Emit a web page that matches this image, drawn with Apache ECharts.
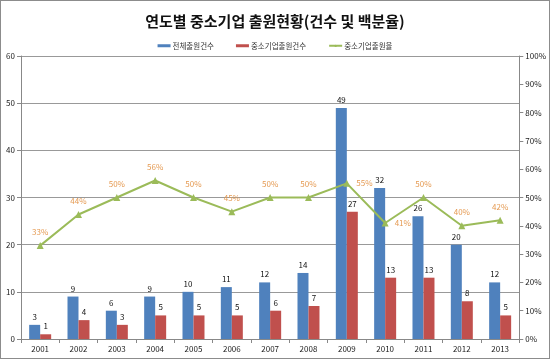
<!DOCTYPE html>
<html><head><meta charset="utf-8">
<script src="https://cdn.jsdelivr.net/npm/echarts@6/dist/echarts.min.js"></script>
<style>html,body{margin:0;padding:0;background:#fff}#c{width:548px;height:357px;border:1px solid #8c8c8c}</style>
</head><body><div id="c"></div>
<script>
const years = ['2001','2002','2003','2004','2005','2006','2007','2008','2009','2010','2011','2012','2013'];
const totalApps = [3,9,6,9,10,11,12,14,49,32,26,20,12];
const smeApps = [1,4,3,5,5,5,6,7,27,13,13,8,5];
const smeRatio = [33,44,50,56,50,45,50,50,55,41,50,40,42];
const titleText = '연도별 중소기업 출원현황(건수 및 백분율)';
const seriesNames = ['전체출원건수','중소기업출원건수','중소기업출원율'];
const font = '"Noto Sans CJK KR", "Noto Sans", sans-serif';
const chart = echarts.init(document.getElementById('c'));
const ratioLabelPos = smeRatio.map((v,i)=> (i===8||i===9) ? 'right' : 'top');
chart.setOption({
  animation:false,
  textStyle:{fontFamily:font},
  title:{text:titleText,left:'center',top:8,textStyle:{fontSize:15,fontWeight:'bold',color:'#111',fontFamily:font}},
  legend:{top:36,left:'center',itemWidth:13,itemHeight:3,itemGap:22,
    textStyle:{fontSize:7.5,color:'#333',fontFamily:font,padding:[0,0,0,-3]},
    data:[{name:seriesNames[0],icon:'rect'},{name:seriesNames[1],icon:'rect'},{name:seriesNames[2]}]},
  grid:{left:20,right:28,top:55,bottom:19},
  xAxis:{type:'category',data:years,
    axisLine:{lineStyle:{color:'#888'}},
    axisTick:{show:true,length:4,lineStyle:{color:'#888'}},
    axisLabel:{fontSize:8,color:'#222',margin:6}},
  yAxis:[
    {type:'value',min:0,max:60,interval:10,
      axisLine:{show:true,lineStyle:{color:'#888'}},
      axisTick:{show:true,length:4,lineStyle:{color:'#888'}},
      splitLine:{lineStyle:{color:'#999'}},
      axisLabel:{fontSize:8,color:'#222',margin:6}},
    {type:'value',min:0,max:100,interval:10,
      axisLine:{show:true,lineStyle:{color:'#888'}},
      axisTick:{show:true,length:4,lineStyle:{color:'#888'}},
      splitLine:{show:false},
      axisLabel:{fontSize:8,color:'#222',margin:6,formatter:'{value}%'}}
  ],
  series:[
    {name:seriesNames[0],type:'bar',data:totalApps,barWidth:11,barGap:'0%',
      itemStyle:{color:'#4F81BD'},
      label:{show:true,position:'top',fontSize:8,color:'#111',distance:4}},
    {name:seriesNames[1],type:'bar',data:smeApps,barWidth:11,
      itemStyle:{color:'#C0504D'},
      label:{show:true,position:'top',fontSize:8,color:'#111',distance:4}},
    {name:seriesNames[2],type:'line',yAxisIndex:1,
      data:smeRatio.map((v,i)=>({value:v,label:{position:ratioLabelPos[i]}})),
      symbol:'triangle',symbolSize:7,
      lineStyle:{color:'#9BBB59',width:2},itemStyle:{color:'#9BBB59'},
      label:{show:true,fontSize:8,color:'#E59A52',distance:6,formatter:'{c}%'}}
  ]
});
</script></body></html>
